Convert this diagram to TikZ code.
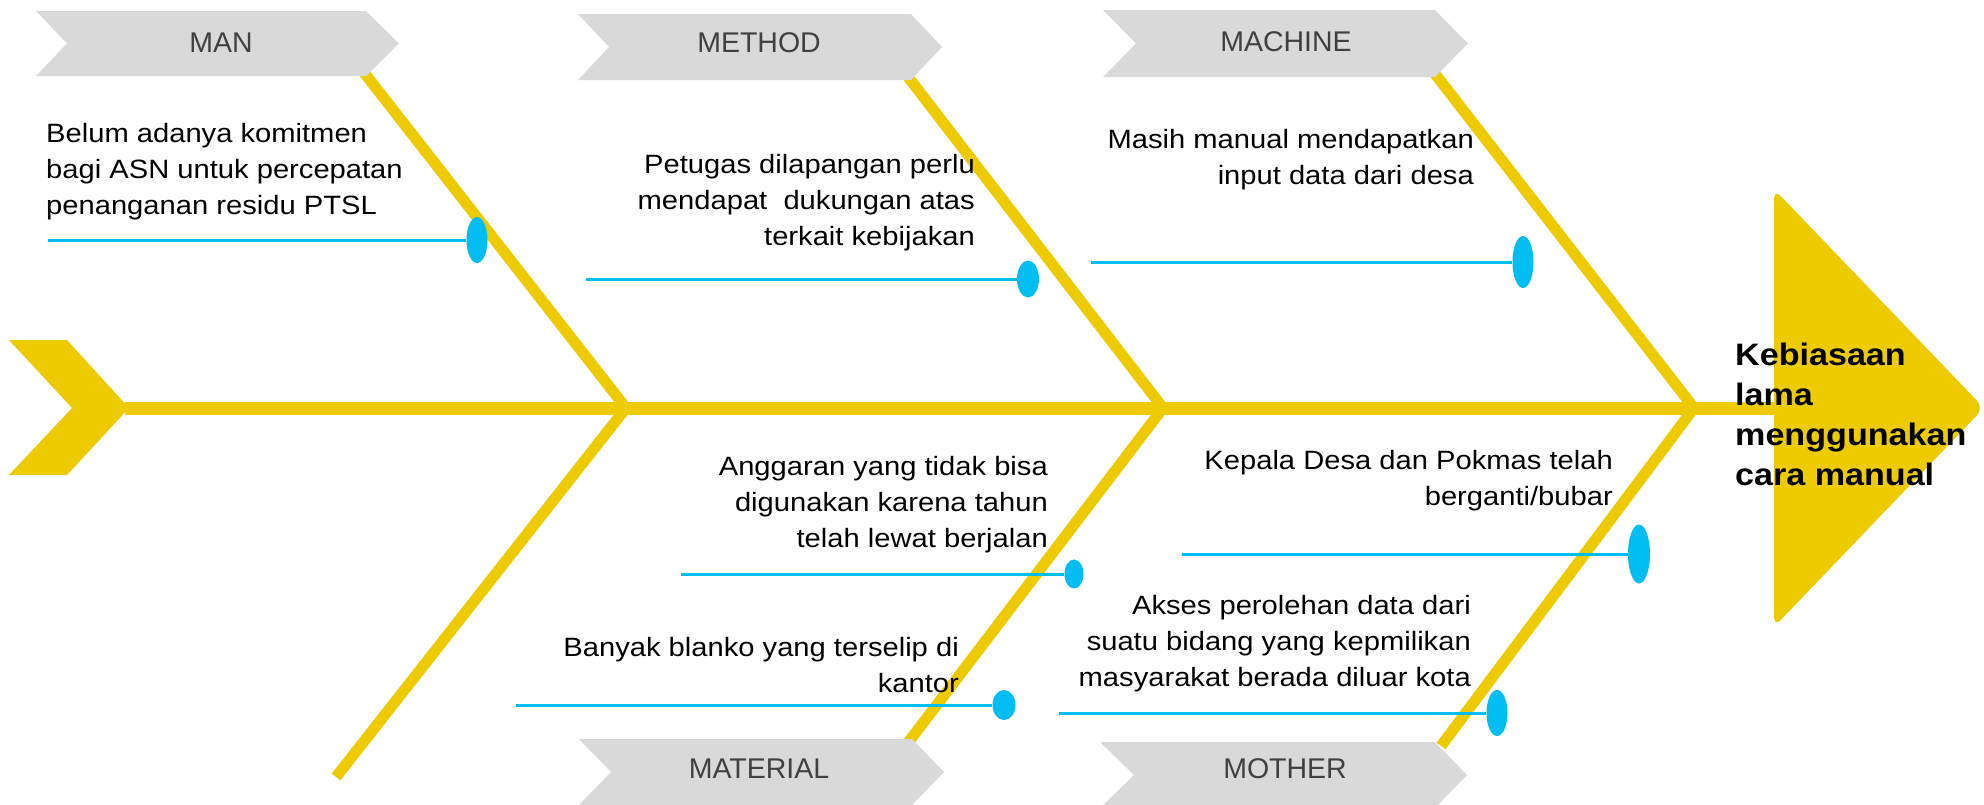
\documentclass[tikz,border=0pt]{standalone}
\usepackage{fontspec}
\setmainfont{Liberation Sans}
\newfontfamily\bodyfont{Liberation Sans}[FakeStretch=1.1]
\usetikzlibrary{shapes.geometric}
\definecolor{fishyellow}{RGB}{238,202,0}
\definecolor{tabgray}{RGB}{217,217,217}
\definecolor{lblgray}{RGB}{64,64,64}
\definecolor{dotblue}{RGB}{0,190,242}
\tikzset{
  spine/.style={draw=fishyellow, line width=13},
  bone/.style={draw=fishyellow, line width=11, miter limit=10},
  tab/.style={fill=tabgray},
  lbl/.style={font=\fontsize{28.5}{34}\selectfont, text=lblgray, inner sep=0, anchor=base},
  bodytext/.style={font=\bodyfont\fontsize{26.5}{36}\selectfont, inner sep=0, text=black},
  headtext/.style={font=\bodyfont\bfseries\fontsize{31}{40}\selectfont, inner sep=0, text=black},
  bluedot/.style={ellipse, fill=dotblue, inner sep=0, draw=none},
  twig/.style={draw=dotblue, line width=3},
}
\begin{document}
\begin{tikzpicture}[x=1pt,y=-1pt]
\useasboundingbox (0,0) rectangle (1984,804);

% spine and bones
\coordinate (tail) at (125,408);
\coordinate (headbase) at (1780,408);
\coordinate (J1) at (626,408);
\coordinate (J2) at (1163,408);
\coordinate (J3) at (1694,408);
\draw[spine] (tail) -- (headbase);
\draw[bone] (362,70) -- (J1) -- (336,777);
\draw[bone] (905,73) -- (J2) -- (907,744);
\draw[bone] (1432,70) -- (J3) -- (1441,746);

% category tabs
\fill[tab] (36,11) -- (366,11) -- (399,43.5) -- (366,76) -- (36,76) -- (67,43.5) -- cycle;
\fill[tab] (578,14) -- (911,14) -- (942,47) -- (911,80) -- (578,80) -- (609,47) -- cycle;
\fill[tab] (1103,10) -- (1435,10) -- (1468,43.5) -- (1435,77) -- (1103,77) -- (1136,43.5) -- cycle;
\fill[tab] (579,739) -- (912,739) -- (944,772) -- (912,805) -- (579,805) -- (611,772) -- cycle;
\fill[tab] (1100,742) -- (1435,742) -- (1467,775) -- (1435,808) -- (1100,808) -- (1134,775) -- cycle;
\node[lbl] (man) at (221,52) {MAN};
\node[lbl] (method) at (759,52) {METHOD};
\node[lbl] (machine) at (1286,51) {MACHINE};
\node[lbl] (material) at (759,778) {MATERIAL};
\node[lbl] (mother) at (1285,778) {MOTHER};

% head and tail
\fill[fishyellow, rounded corners=10] (1774,408) -- (1774,189) -- (1984,408) -- (1774,627) -- cycle;
\fill[fishyellow] (9,340) -- (67,340) -- (129,408) -- (67,475) -- (9,475) -- (72,408) -- cycle;

% causes: twigs and dots
\node[bluedot, minimum width=21, minimum height=46] (d1) at (477,240) {};
\node[bluedot, minimum width=22, minimum height=37] (d2) at (1028,279) {};
\node[bluedot, minimum width=21, minimum height=52] (d3) at (1523,262) {};
\node[bluedot, minimum width=19, minimum height=29] (d4) at (1074,574) {};
\node[bluedot, minimum width=23, minimum height=30] (d5) at (1004,705) {};
\node[bluedot, minimum width=22, minimum height=59] (d6) at (1639,554) {};
\node[bluedot, minimum width=21, minimum height=46] (d7) at (1497,713) {};
\coordinate (s1) at (48,240);
\coordinate (s2) at (586,279);
\coordinate (s3) at (1091,262);
\coordinate (s4) at (681,574);
\coordinate (s5) at (516,705);
\coordinate (s6) at (1182,554);
\coordinate (s7) at (1059,713);
\foreach \i in {1,...,7} { \draw[twig] (s\i) -- (d\i); }

% texts (anchored at the baseline of the last line)
\node[bodytext, align=left, anchor=base west] (t1) at (46,214)
  {Belum adanya komitmen\\bagi ASN untuk percepatan\\penanganan residu PTSL};
\node[bodytext, align=right, anchor=base east] (t2) at (975,245)
  {Petugas dilapangan perlu\\mendapat\ \ dukungan atas\\terkait kebijakan};
\node[bodytext, align=right, anchor=base east] (t3) at (1474,184)
  {Masih manual mendapatkan\\input data dari desa};
\node[bodytext, align=right, anchor=base east] (t4) at (1048,547)
  {Anggaran yang tidak bisa\\digunakan karena tahun\\telah lewat berjalan};
\node[bodytext, align=right, anchor=base east] (t5) at (959,692)
  {Banyak blanko yang terselip di\\kantor};
\node[bodytext, align=right, anchor=base east] (t6) at (1613,505)
  {Kepala Desa dan Pokmas telah\\berganti/bubar};
\node[bodytext, align=right, anchor=base east] (t7) at (1471,686)
  {Akses perolehan data dari\\suatu bidang yang kepmilikan\\masyarakat berada diluar kota};
\node[headtext, align=left, anchor=base west] (effect) at (1735,485)
  {Kebiasaan\\lama\\menggunakan\\cara manual};
\end{tikzpicture}
\end{document}
